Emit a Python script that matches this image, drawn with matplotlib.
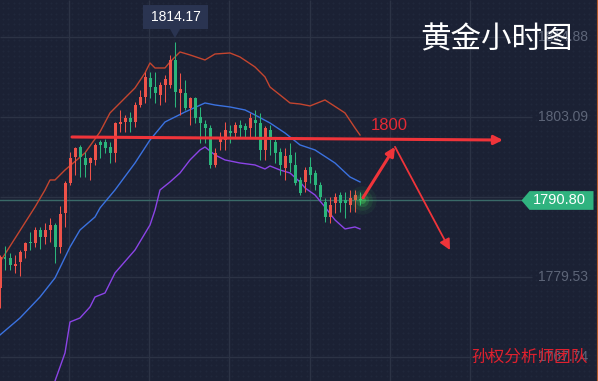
# gold 1h candles + bollinger bands, dark trading-app look
# red = up, green = down (chinese colour convention)

import numpy as np
import matplotlib.pyplot as plt
from matplotlib.patches import Polygon

plt.rcParams['font.family'] = ['Liberation Sans', 'DejaVu Sans']

# OHLC, one candle per hour
opens = [1777.92, 1782.48, 1782.33, 1781.16, 1781.75, 1783.37, 1784.69, 1784.54, 1786.46, 1785.43,
         1786.46, 1787.19, 1783.95, 1788.96, 1793.38, 1797.21, 1798.68, 1797.06, 1796.32, 1796.77,
         1799.42, 1799.42, 1798.68, 1797.80, 1802.07, 1802.36, 1802.95, 1802.36, 1804.86, 1806.04,
         1808.84, 1807.51, 1806.34, 1807.81, 1807.81, 1811.50, 1806.63, 1806.63, 1804.42, 1805.89,
         1803.09, 1802.07, 1801.48, 1796.03, 1799.42, 1799.71, 1801.03, 1800.74, 1801.92, 1801.77,
         1801.48, 1802.65, 1802.21, 1798.24, 1801.18, 1799.42, 1797.94, 1795.58, 1797.50, 1796.03,
         1793.82, 1793.53, 1795.74, 1794.85, 1793.08, 1790.57, 1788.37, 1790.43, 1791.61, 1790.87,
         1790.13, 1790.87, 1790.87]
highs = [1782.78, 1784.10, 1783.07, 1782.78, 1783.51, 1784.69, 1786.16, 1786.90, 1786.90, 1787.49,
         1788.22, 1787.49, 1789.99, 1793.67, 1797.94, 1798.68, 1798.98, 1797.94, 1797.21, 1799.27,
         1799.71, 1799.86, 1799.42, 1802.36, 1804.13, 1803.39, 1803.83, 1805.31, 1807.07, 1809.72,
         1809.72, 1809.72, 1808.25, 1809.28, 1812.22, 1814.17, 1809.58, 1808.55, 1806.04, 1806.04,
         1804.57, 1802.65, 1801.92, 1798.53, 1800.88, 1802.36, 1801.92, 1802.36, 1802.65, 1802.21,
         1803.68, 1804.13, 1803.68, 1801.77, 1801.92, 1800.15, 1798.53, 1798.53, 1799.27, 1797.94,
         1794.26, 1795.74, 1797.21, 1795.29, 1793.53, 1791.16, 1791.31, 1791.90, 1792.05, 1792.05,
         1792.34, 1792.34, 1792.05]
lows = [1774.97, 1780.57, 1780.57, 1780.13, 1779.69, 1782.33, 1783.51, 1783.95, 1783.66, 1784.40,
        1784.69, 1781.60, 1783.07, 1786.90, 1793.08, 1794.55, 1794.26, 1794.26, 1793.82, 1796.03,
        1797.06, 1797.80, 1796.32, 1796.47, 1800.88, 1800.88, 1800.88, 1801.62, 1804.57, 1805.16,
        1805.89, 1805.16, 1804.86, 1805.31, 1807.37, 1804.57, 1803.39, 1804.13, 1801.92, 1802.21,
        1799.27, 1799.27, 1795.58, 1795.74, 1798.24, 1798.24, 1799.27, 1799.99, 1800.15, 1800.15,
        1800.15, 1800.15, 1796.77, 1796.77, 1797.50, 1796.32, 1794.55, 1793.82, 1795.00, 1793.08,
        1791.61, 1792.05, 1793.38, 1792.34, 1790.87, 1787.63, 1787.49, 1788.96, 1789.11, 1788.22,
        1789.17, 1789.17, 1790.13]
closes = [1782.48, 1782.19, 1781.30, 1781.45, 1783.22, 1784.54, 1784.54, 1786.46, 1785.43, 1786.46,
          1787.19, 1783.95, 1788.81, 1793.38, 1797.06, 1798.53, 1797.21, 1796.03, 1797.06, 1798.98,
          1798.98, 1798.53, 1797.80, 1802.21, 1802.36, 1802.95, 1802.36, 1804.86, 1806.04, 1808.99,
          1807.51, 1806.63, 1807.81, 1808.69, 1811.50, 1806.78, 1807.22, 1804.42, 1805.89, 1802.95,
          1802.21, 1801.48, 1796.03, 1797.80, 1800.01, 1801.18, 1800.74, 1801.92, 1801.48, 1801.18,
          1802.95, 1802.21, 1798.24, 1801.48, 1799.71, 1797.80, 1796.03, 1797.35, 1796.32, 1793.38,
          1791.91, 1795.29, 1794.55, 1793.08, 1791.31, 1788.37, 1790.13, 1791.31, 1790.43, 1790.43,
          1791.16, 1791.61, 1790.80]

# bollinger bands, sampled at candle indices
upper_idx = [0, 7, 9, 10, 11, 13, 17, 20, 22, 24, 27, 29, 30, 31, 33, 34, 36, 38, 41, 43, 46, 48,
             51, 53, 54, 56, 58, 60, 62, 65, 69, 71, 72]
upper_val = [1781.75, 1789.84, 1792.35, 1793.82, 1793.82, 1795.29, 1797.80, 1800.89, 1803.69,
             1805.16, 1807.37, 1809.58, 1811.05, 1810.31, 1810.31, 1811.19, 1812.67, 1812.23,
             1811.49, 1812.37, 1812.52, 1811.93, 1810.46, 1808.99, 1807.51, 1806.34, 1805.16,
             1805.01, 1804.72, 1805.60, 1803.69, 1801.48, 1800.44]
middle_idx = [0, 4, 8, 11, 14, 16, 19, 20, 23, 27, 30, 33, 37, 41, 43, 46, 49, 51, 54, 57, 60, 63,
              67, 70, 72]
middle_val = [1771.00, 1773.50, 1776.59, 1779.39, 1783.95, 1786.46, 1788.37, 1789.70, 1792.35,
              1796.32, 1799.71, 1802.36, 1803.83, 1805.16, 1804.86, 1804.57, 1804.13, 1803.39,
              1802.21, 1800.74, 1798.98, 1798.24, 1796.32, 1794.26, 1793.53]
lower_idx = [11, 13, 14, 16, 18, 19, 21, 23, 27, 30, 31, 32, 34, 36, 38, 40, 41, 43, 45, 48, 51,
             53, 54, 56, 58, 60, 61, 63, 65, 67, 69, 71, 72]
lower_val = [1764.22, 1768.35, 1772.91, 1773.50, 1775.12, 1776.59, 1777.18, 1780.13, 1783.51,
             1787.19, 1789.40, 1792.35, 1793.53, 1794.85, 1796.77, 1798.24, 1798.68, 1797.50,
             1796.77, 1796.32, 1796.03, 1795.44, 1795.88, 1795.29, 1794.85, 1793.53, 1792.65,
             1791.61, 1789.84, 1787.93, 1786.61, 1786.90, 1786.61]

price_ticks = [1814.88, 1803.09, 1791.31, 1779.53, 1767.74]
price_labels = ['1814.88', '1803.09', '1791.31', '1779.53', '1767.74']
time_grid = [13.8, 29.8, 45.8, 62.0, 78.0, 94.0]   # vertical grid, in candle units

last_price = 1790.80
peak_price = 1814.17
level = 1800

BG = '#1b2134'
GRID = '#2c3345'
UP = '#ee5249'
DOWN = '#2bb57b'
ARROW = '#f0343a'

W, H = 598, 381
fig = plt.figure(figsize=(W / 100, H / 100), dpi=100)
fig.patch.set_facecolor(BG)

# dotted world-map texture, just a faint dot grid in pixel space
bg = fig.add_axes([0, 0, 1, 1])
bg.set_xlim(0, W)
bg.set_ylim(H, 0)
bg.axis('off')
gx, gy = np.meshgrid(np.arange(3, W, 5.33), np.arange(3, H, 5.33))
bg.scatter(gx.ravel(), gy.ravel(), s=2.5, color='#20273b', linewidths=0)

ax = fig.add_axes([0, 0, 1, 1])
ax.patch.set_alpha(0)
ax.set_xlim(0, 119.6)          # 5 px per candle
ax.set_ylim(1764.22, 1820.32)
ax.axis('off')

# grid
ax.hlines(price_ticks, 0, 106.4, color=GRID, lw=1, zorder=1)
ax.vlines(time_grid, 1764.22, 1820.32, color=GRID, lw=1, zorder=1)
ax.axvline(119.3, color='#b55a2c', lw=0.8, zorder=1)

for p, lab in zip(price_ticks, price_labels):
    ax.text(107.6, p, lab, color='#5d6578', fontsize=10, va='center', ha='left', zorder=2)

# bands
ax.plot(upper_idx, upper_val, color='#c4452f', lw=1.0, zorder=3)
ax.plot(middle_idx, middle_val, color='#3b72e0', lw=1.0, zorder=3)
ax.plot(lower_idx, lower_val, color='#8b44e6', lw=1.0, zorder=3)

# candles
idx = np.arange(len(opens))
o = np.array(opens)
c = np.array(closes)
colors = [UP if cc >= oo else DOWN for oo, cc in zip(o, c)]
ax.vlines(idx, lows, highs, colors=colors, lw=0.75, zorder=4)
body_h = np.maximum(np.abs(c - o), 0.16)
ax.bar(idx, body_h, bottom=np.minimum(o, c), width=0.6, color=colors, linewidth=0, zorder=5)

# current price line + tag (tag sits over the 1791.31 label, like the app does)
ax.axhline(last_price, xmax=106.4 / 119.6, color='#3a6a68', lw=1, zorder=2)
half = 1.38
tag = Polygon([(104.3, last_price), (105.9, last_price + half), (118.7, last_price + half),
               (118.7, last_price - half), (105.9, last_price - half)],
              closed=True, facecolor='#30b37f', edgecolor='none', zorder=6)
ax.add_patch(tag)
ax.text(111.8, last_price, f'{last_price:.2f}', color='white', fontsize=10.5,
        ha='center', va='center', zorder=7)

# glow on the last candle
for s, a in ((420, 0.06), (220, 0.10), (90, 0.18), (25, 0.35)):
    ax.scatter(len(opens) - 1 + 0.4, last_price, s=s, color='#46e05c', alpha=a,
               linewidths=0, zorder=6)

# peak callout
peak_x = int(np.argmax(highs))
box = Polygon([(28.6, 1819.58), (41.6, 1819.58), (41.6, 1816.05), (peak_x + 1.0, 1816.05),
               (peak_x, 1814.72), (peak_x - 1.0, 1816.05), (28.6, 1816.05)],
              closed=True, facecolor='#2a3451', edgecolor='none', zorder=6)
ax.add_patch(box)
ax.text(35.1, 1817.8, f'{peak_price:.2f}', color='white', fontsize=10,
        ha='center', va='center', zorder=7)

# 1800 level arrow + forecast zigzag
ax.annotate('', xy=(100.6, level - 0.3), xytext=(14.4, level + 0.15),
            arrowprops=dict(arrowstyle='-|>', color=ARROW, lw=2.2, mutation_scale=13,
                            shrinkA=0, shrinkB=0), zorder=8)
ax.text(77.9, level + 1.9, str(level), color='#e42a35', fontsize=12, ha='center',
        va='center', zorder=8)
ax.annotate('', xy=(79.0, 1798.7), xytext=(72.6, 1791.2),
            arrowprops=dict(arrowstyle='-|>', color=ARROW, lw=2.2, mutation_scale=13,
                            shrinkA=0, shrinkB=0), zorder=8)
ax.annotate('', xy=(90.0, 1783.5), xytext=(79.0, 1798.7),
            arrowprops=dict(arrowstyle='-|>', color=ARROW, lw=1.3, mutation_scale=16,
                            shrinkA=0, shrinkB=0), zorder=8)

# title + watermark
cjk = ['Noto Sans CJK SC', 'DejaVu Sans']
ax.text(0.831, 0.895, '黄金小时图', transform=ax.transAxes, color='white', fontsize=22,
        family=cjk, ha='center', va='center', zorder=9)
ax.text(0.886, 0.063, '孙权分析师团队', transform=ax.transAxes, color='#e0202e', fontsize=12,
        family=cjk, ha='center', va='center', zorder=9)

fig.savefig('out.png', dpi=100, facecolor=BG)
